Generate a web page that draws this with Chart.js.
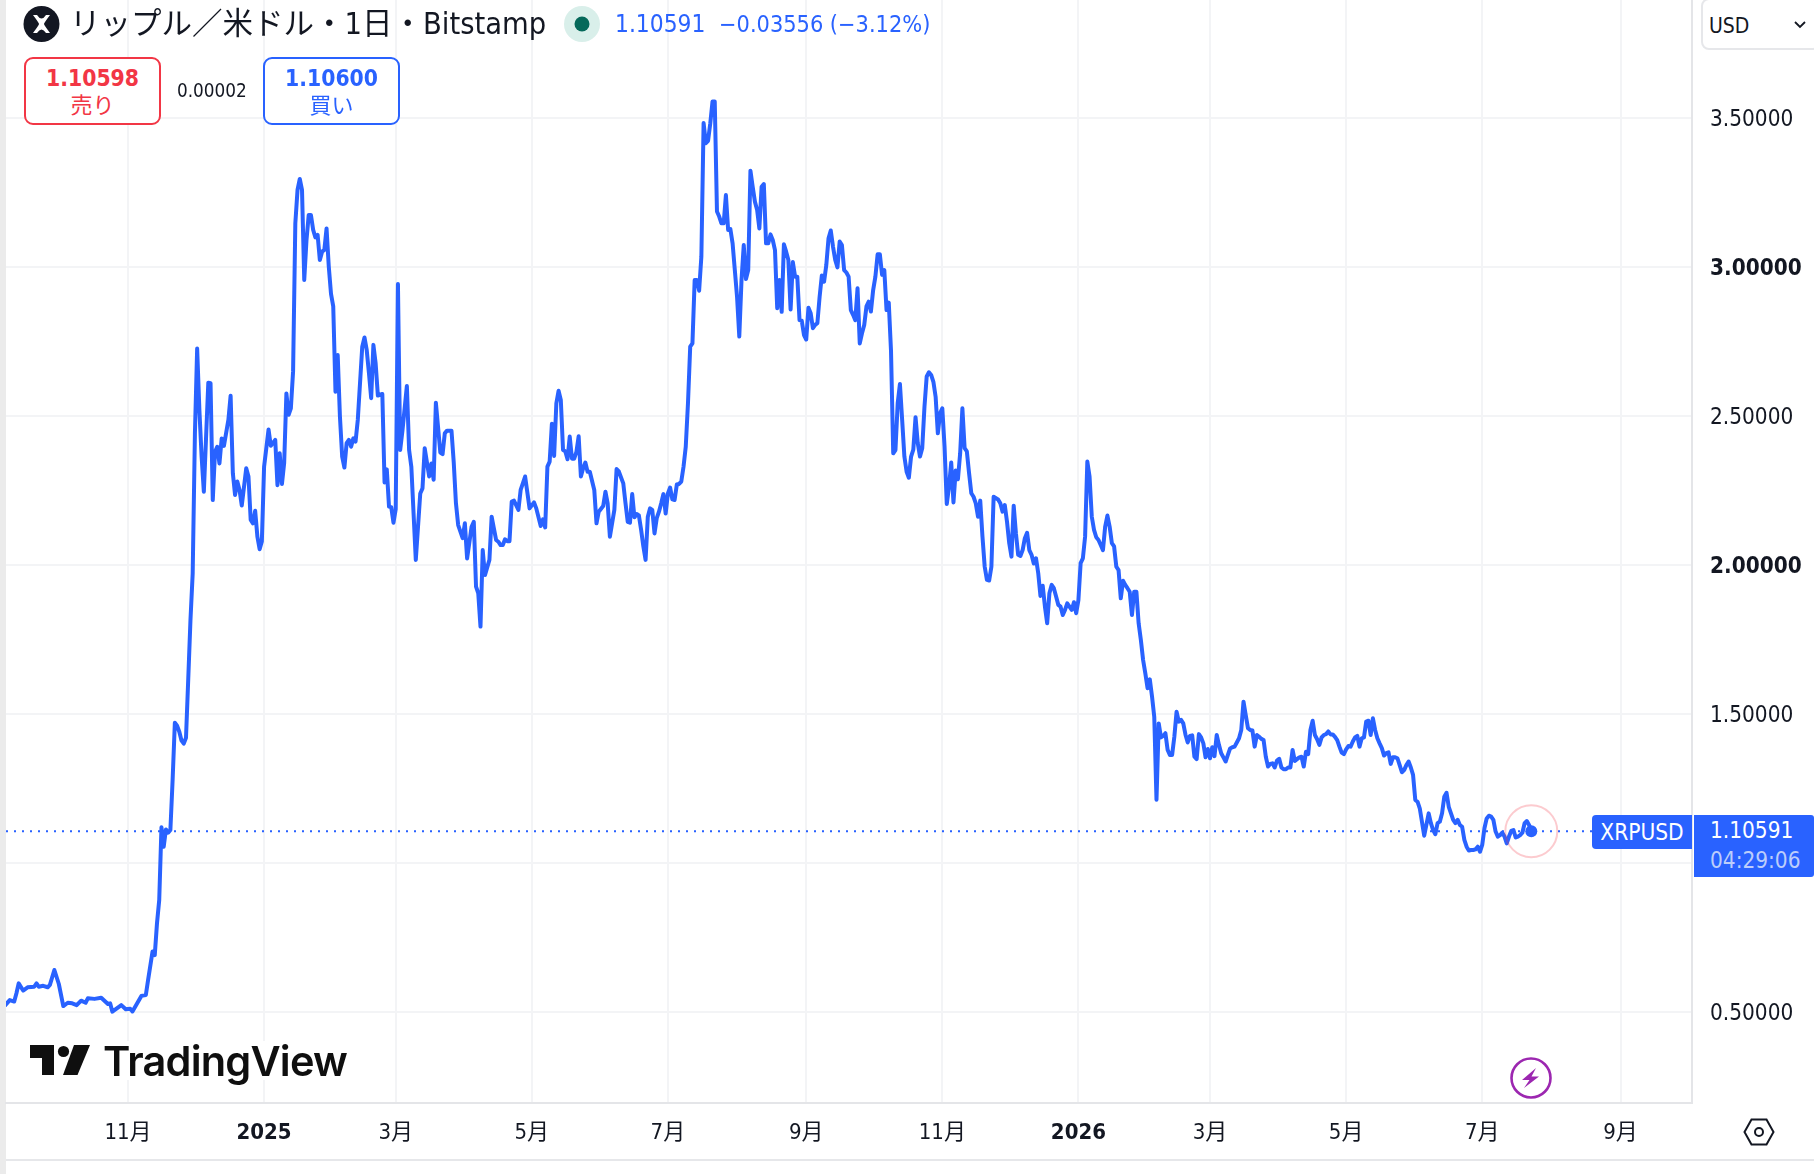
<!DOCTYPE html>
<html lang="ja">
<head>
<meta charset="utf-8">
<title>XRPUSD</title>
<script src="https://cdn.jsdelivr.net/npm/chart.js@4"></script>
<style>
  html, body { margin: 0; padding: 0; background: #fff; }
  body { width: 1814px; height: 1174px; position: relative; overflow: hidden;
         font-family: "DejaVu Sans Condensed", "DejaVu Sans", "Noto Sans CJK JP", sans-serif; color: #131722; }
  canvas { position: absolute; left: 0; top: 0; }
  .abs { position: absolute; white-space: nowrap; }
  #leftEdge { left: 0; top: 0; width: 6px; height: 1174px; background: #ebebeb; }
  #footLine { left: 6px; top: 1159px; width: 1808px; height: 2px; background: #e6e7ea; }
  #title { left: 70px; top: 3px; font-size: 30.5px; line-height: 42px; color: #131722; }
  .quote { top: 5px; line-height: 38px; color: #2962ff; }
  #quoteLast { left: 615px; font-size: 24.3px; }
  #quoteChange { left: 719px; font-size: 23.3px; }
  .trade { top: 57px; width: 137px; height: 68px; box-sizing: border-box; border: 2px solid; border-radius: 9px;
           background: #fff; text-align: center; }
  .trade b { display: block; font-size: 22.7px; line-height: 26px; margin-top: 6px; }
  .trade span { display: block; font-size: 22px; line-height: 26px; margin-top: -1px; font-family: "Noto Sans CJK JP", sans-serif; }
  #sell { left: 24px; border-color: #f23645; color: #f23645; }
  #buy { left: 263px; border-color: #2962ff; color: #2962ff; }
  #spread { left: 177px; top: 78px; font-size: 18.8px; line-height: 26px; }
  #usd { left: 1701px; top: -2px; width: 120px; height: 52px; box-sizing: border-box; border: 2px solid #e6e7ea;
         border-radius: 8px; background: #fff; font-size: 21px; line-height: 52px; padding-left: 6px; }
  #symbolTag { left: 1592px; top: 815px; width: 100px; height: 34px; background: #2962ff; color: #fff;
               border-radius: 4px 0 0 4px; font-size: 22.5px; line-height: 34px; text-align: center; }
  #priceTag { left: 1694px; top: 815px; width: 120px; height: 62px; background: #2962ff; color: #fff;
              border-radius: 0 3px 3px 0; font-size: 22.4px; line-height: 30px; padding-left: 16px; box-sizing: border-box; }
  #priceTag i { font-style: normal; color: #bccdfb; display: block; }
  #brand { left: 26px; top: 1041px; width: 326px; height: 39px; background: #fff; }
  #brandText { left: 103px; top: 1033px; font-family: Inter, sans-serif; font-weight: 600; font-size: 41.5px;
               letter-spacing: -0.8px; line-height: 56px; color: #0f0f0f; }
  svg.abs { overflow: visible; }
</style>
</head>
<body>
<div class="abs" id="leftEdge"></div>
<canvas id="chart" width="1814" height="1174"></canvas>
<div class="abs" id="footLine"></div>

<svg class="abs" style="left:0;top:0" width="100" height="50">
  <circle cx="41.5" cy="24" r="18" fill="#131722"/>
  <path d="M33 15 L37 15 Q41.5 22 46 15 L50 15 Q44 23 44 24 Q44 25 50 33 L46 33 Q41.5 26 37 33 L33 33 Q39 25 39 24 Q39 23 33 15 Z" fill="#fff"/>
</svg>
<div class="abs" id="title">リップル／米ドル・1日・Bitstamp</div>
<svg class="abs" style="left:560px;top:4px" width="44" height="40">
  <ellipse cx="22" cy="20" rx="18" ry="18" fill="#d9efea"/>
  <circle cx="22" cy="20" r="7.5" fill="#05695a"/>
</svg>
<div class="abs quote" id="quoteLast">1.10591</div>
<div class="abs quote" id="quoteChange">−0.03556 (−3.12%)</div>

<div class="abs trade" id="sell"><b>1.10598</b><span>売り</span></div>
<div class="abs" id="spread">0.00002</div>
<div class="abs trade" id="buy"><b>1.10600</b><span>買い</span></div>

<div class="abs" id="usd">USD</div>
<svg class="abs" style="left:1794px;top:20px" width="14" height="10">
  <path d="M1 2 L6 7 L11 2" fill="none" stroke="#131722" stroke-width="1.8"/>
</svg>

<div class="abs" id="symbolTag">XRPUSD</div>
<div class="abs" id="priceTag">1.10591<i>04:29:06</i></div>

<div class="abs" id="brand"></div>
<svg class="abs" style="left:30px;top:1045px" width="62" height="32">
  <path d="M0 0 H24 V30 H12 V13 H0 Z" fill="#0f0f0f"/>
  <circle cx="33.5" cy="6.5" r="5.6" fill="#0f0f0f"/>
  <path d="M44 0 H60 L47.5 30 H33 Z" fill="#0f0f0f"/>
</svg>
<div class="abs" id="brandText">TradingView</div>

<svg class="abs" style="left:1509px;top:1056px" width="44" height="44">
  <circle cx="22" cy="22" r="19.5" fill="#fff" stroke="#9c27b0" stroke-width="2.6"/>
  <path d="M27 12 L13 24 H20.5 L15 32 L30 20.5 H22.5 Z" fill="#9c27b0"/>
</svg>
<svg class="abs" style="left:1742px;top:1116px" width="34" height="32">
  <path d="M2.5 16 L9.5 3.5 H24.5 L31.5 16 L24.5 28.5 H9.5 Z" fill="none" stroke="#131722" stroke-width="2"/>
  <circle cx="17" cy="16" r="4" fill="none" stroke="#131722" stroke-width="2"/>
</svg>

<script>
// Daily XRP/USD closes; day 0 is 2024-11-01, only the turning points of the line are listed.
const sessionDays = [
  -55,-53,-51,-50,-49,-47,-45,-42,-41,-40,-38,-36,-35,-33,-31,-29,-27,-25,-23,-21,-19,-18,-15,-12,-9,-8,-7,-5,-3,-1,1,2,6,8,9,11,12,13,14,15,16,17,18,19,20,
  21,22,23,24,25,26,27,28,29,30,31,32,33,34,36,37,38,39,40,41,42,43,45,46,47,48,49,50,51,53,54,55,56,57,58,59,60,
  61,63,64,66,67,68,69,70,71,72,73,74,75,76,77,78,79,80,81,82,83,84,85,86,87,88,89,90,91,92,93,94,95,96,97,98,99,100,
  101,102,103,105,106,107,108,109,110,111,112,114,115,116,117,118,119,120,121,122,123,125,126,127,129,131,132,133,135,136,137,138,140,141,142,143,145,146,147,148,150,151,152,154,155,156,157,158,159,160,162,163,164,165,
  166,167,168,169,170,171,172,173,175,176,178,180,182,183,185,186,187,188,189,190,191,192,193,194,195,196,197,198,199,200,201,202,203,204,205,206,207,209,210,211,213,214,215,216,217,218,219,220,222,223,224,225,226,227,228,229,230,231,232,233,234,235,236,237,238,239,240,241,242,243,244,245,246,247,248,249,250,251,252,253,
  254,255,256,257,258,259,260,261,262,263,264,265,266,267,268,269,270,271,272,273,274,275,276,277,278,279,280,281,282,283,284,285,286,287,288,289,290,291,292,293,294,295,296,297,298,299,300,
  301,302,303,304,305,306,307,308,309,310,311,312,313,314,315,316,317,318,319,320,321,322,323,324,325,326,327,328,329,330,331,332,333,334,335,336,337,338,339,340,341,342,343,
  344,345,346,347,348,349,350,351,352,353,354,355,356,357,358,359,360,361,362,363,364,365,366,367,368,369,370,371,372,373,374,375,376,377,378,379,380,381,382,383,384,385,386,387,388,390,391,392,393,394,395,396,397,398,399,400,
  401,402,403,404,405,406,407,408,409,410,411,412,413,414,415,416,417,418,419,420,421,423,424,425,426,427,428,429,430,431,432,433,434,435,436,437,438,439,440,441,442,443,444,445,446,447,448,449,450,451,452,453,454,455,456,457,458,459,460,461,462,
  463,464,465,466,467,468,469,470,471,472,473,474,475,476,477,478,479,480,481,482,483,484,485,486,487,488,489,490,491,492,493,494,495,496,497,498,499,500,
  501,502,503,504,505,506,507,508,509,510,511,512,513,514,515,516,517,518,519,520,521,522,523,524,525,526,527,528,529,530,531,532,533,534,535,536,537,538,539,540,
  541,542,543,544,545,546,547,548,549,550,551,552,553,554,555,556,557,558,559,560,561,562,563,564,565,566,567,568,569,570,571,572,573,574,575,576,577,578,579,581,583,584,585,586,587,588,589,590,
  591,592,593,594,595,596,597,598,599,600,601,602,603,604,605,606,607,608,609,610,611,612,613,614,615,616,617,618,619,620,621,622,623,624,625,626,627,628,629
];
const closes = [
  .522,.539,.534,.562,.595,.571,.582,.584,.595,.584,.587,.582,.590,.640,.593,.519,.530,.528,.522,.537,.530,.545,.543,.547,.526,.528,.500,.511,.522,.508,.510,.501,.553,.556,.606,.702,.690,.797,.875,1.119,1.054,1.112,1.101,1.11,1.278,
  1.47,1.46,1.44,1.41,1.40,1.42,1.616,1.815,1.972,2.442,2.727,2.52,2.364,2.246,2.612,2.61,2.218,2.38,2.397,2.341,2.425,2.40,2.487,2.568,2.308,2.235,2.28,2.252,2.2,2.325,2.297,2.151,2.14,2.182,2.095,2.053,2.079,
  2.33,2.455,2.40,2.42,2.268,2.375,2.272,2.342,2.576,2.504,2.526,2.65,3.147,3.26,3.296,3.259,2.957,3.09,3.175,3.175,3.125,3.10,3.108,3.024,3.052,3.058,3.13,3.002,2.91,2.868,2.582,2.705,2.498,2.364,2.327,2.409,2.42,2.397,
  2.425,2.414,2.487,2.733,2.764,2.722,2.644,2.56,2.739,2.677,2.569,2.574,2.277,2.321,2.196,2.194,2.142,2.187,2.943,2.386,2.45,2.601,2.386,2.33,2.017,2.24,2.257,2.392,2.297,2.341,2.286,2.545,2.377,2.372,2.442,2.451,2.451,2.345,2.207,2.134,2.09,2.14,2.022,2.128,2.145,1.927,1.905,1.793,2.05,1.966,2.017,2.162,2.123,2.084,
  2.078,2.067,2.067,2.086,2.08,2.08,2.213,2.216,2.185,2.252,2.297,2.19,2.21,2.19,2.131,2.153,2.126,2.33,2.347,2.474,2.366,2.543,2.585,2.554,2.386,2.382,2.355,2.431,2.357,2.357,2.38,2.432,2.297,2.325,2.344,2.313,2.313,2.252,2.14,2.179,2.198,2.246,2.207,2.095,2.14,2.185,2.322,2.314,2.274,2.207,2.145,2.142,2.238,2.16,2.171,2.166,2.118,2.062,2.017,2.162,2.19,2.185,2.106,2.157,2.179,2.207,2.238,2.173,2.24,2.26,2.22,2.218,2.27,2.272,2.28,2.33,2.397,2.543,2.733,2.744,
  2.957,2.957,2.921,3.035,3.484,3.416,3.424,3.483,3.556,3.556,3.187,3.17,3.147,3.147,3.242,3.125,3.128,3.08,2.99,2.90,2.767,2.957,3.074,2.96,2.99,3.324,3.27,3.22,3.192,3.13,3.27,3.279,3.08,3.08,3.11,3.091,3.057,2.862,2.957,2.85,3.077,3.052,3.024,2.858,3.017,2.968,2.968,
  2.822,2.82,2.772,2.757,2.864,2.845,2.795,2.806,2.812,2.9,2.972,2.951,3.007,3.097,3.123,3.069,3.024,2.999,3.086,3.074,2.99,2.982,2.968,2.856,2.84,2.822,2.929,2.744,2.778,2.806,2.868,2.884,2.851,2.923,2.968,3.043,3.043,2.974,2.99,2.856,2.881,2.72,2.375,
  2.386,2.543,2.608,2.487,2.364,2.313,2.293,2.364,2.387,2.496,2.409,2.364,2.392,2.531,2.633,2.647,2.638,2.615,2.565,2.442,2.509,2.526,2.398,2.205,2.263,2.344,2.21,2.317,2.288,2.375,2.526,2.392,2.381,2.308,2.241,2.229,2.207,2.162,2.216,2.095,1.994,1.95,1.948,1.994,2.229,2.22,2.207,2.179,2.201,2.145,2.073,2.028,2.199,2.106,2.034,2.03,
  2.05,2.09,2.108,2.05,2.034,2.005,2.022,1.972,1.896,1.93,1.86,1.804,1.905,1.933,1.922,1.894,1.866,1.86,1.832,1.849,1.871,1.849,1.875,1.838,1.882,2.006,2.022,2.095,2.347,2.297,2.162,2.118,2.093,2.084,2.067,2.05,2.129,2.166,2.129,2.073,2.062,1.994,1.983,1.888,1.947,1.933,1.922,1.91,1.832,1.91,1.91,1.804,1.748,1.681,1.636,1.586,1.616,1.558,1.49,1.212,1.468,
  1.421,1.426,1.435,1.379,1.362,1.362,1.423,1.507,1.474,1.48,1.468,1.43,1.404,1.426,1.428,1.356,1.348,1.432,1.421,1.401,1.354,1.382,1.351,1.388,1.358,1.429,1.396,1.368,1.354,1.34,1.362,1.384,1.388,1.39,1.404,1.418,1.446,1.541,
  1.496,1.452,1.446,1.444,1.39,1.429,1.423,1.416,1.412,1.356,1.323,1.332,1.334,1.32,1.343,1.349,1.32,1.314,1.314,1.32,1.32,1.379,1.342,1.348,1.354,1.356,1.323,1.373,1.365,1.446,1.477,1.429,1.415,1.396,1.421,1.429,1.432,1.441,1.431,1.431,
  1.423,1.412,1.39,1.37,1.365,1.381,1.392,1.39,1.407,1.421,1.426,1.39,1.418,1.421,1.474,1.477,1.429,1.485,1.446,1.418,1.401,1.385,1.36,1.368,1.371,1.332,1.354,1.354,1.351,1.328,1.304,1.311,1.328,1.34,1.32,1.295,1.211,1.205,1.183,1.091,1.166,1.133,1.11,1.096,1.133,1.138,1.166,1.222,
  1.235,1.188,1.166,1.144,1.133,1.144,1.127,1.121,1.077,1.054,1.041,1.043,1.043,1.045,1.054,1.037,1.06,1.116,1.149,1.158,1.155,1.144,1.105,1.088,1.093,1.101,1.088,1.065,1.088,1.107,1.11,1.085,1.088,1.093,1.101,1.133,1.14,1.127,1.10591
];

const lastClose = 1.10591;
const priceTicks = [0.5, 1, 1.5, 2, 2.5, 3, 3.5];
const strongPrices = [2, 3];
const monthDays = [0, 61, 120, 181, 242, 304, 365, 426, 485, 546, 607, 669];
const monthLabels = ['11月', '2025', '3月', '5月', '7月', '9月', '11月', '2026', '3月', '5月', '7月', '9月'];
const yearLabels = ['2025', '2026'];

const dayMin = -54.68, dayMax = 701.03;
const priceMin = 0.1934, priceMax = 3.897;

const blue = '#2962ff';
const gridColor = '#f3f4f6';
const edgeColor = '#e4e5e8';
const axisFamily = '"DejaVu Sans Condensed","DejaVu Sans","Noto Sans CJK JP",sans-serif';

// Fixes each axis band so the plot area stays the same whatever the labels measure.
function fixBand(prop, size) {
  return scale => {
    scale[prop] = size;
    scale.paddingTop = scale.paddingBottom = scale.paddingLeft = scale.paddingRight = 0;
  };
}

const lastIndex = closes.length - 1;

new Chart(document.getElementById('chart'), {
  type: 'line',
  data: {
    datasets: [
      {
        label: 'XRPUSD',
        data: sessionDays.map((d, i) => ({ x: d, y: closes[i] })),
        borderColor: blue,
        backgroundColor: blue,
        borderWidth: 4,
        borderJoinStyle: 'round',
        borderCapStyle: 'round',
        tension: 0,
        pointRadius: c => (c.dataIndex === lastIndex ? 6 : 0),
        pointBorderWidth: 0,
        order: 2
      },
      {
        label: 'last price',
        data: [{ x: dayMin, y: lastClose }, { x: dayMax, y: lastClose }],
        borderColor: blue,
        borderWidth: 2,
        borderDash: [2, 6],
        pointRadius: 0,
        order: 3
      },
      {
        label: 'live pulse',
        data: [{ x: sessionDays[lastIndex], y: lastClose }],
        showLine: false,
        pointRadius: 26,
        pointBorderWidth: 2,
        pointBorderColor: 'rgba(242,54,69,0.26)',
        pointBackgroundColor: 'rgba(0,0,0,0)',
        clip: false,
        order: 1
      }
    ]
  },
  options: {
    responsive: false,
    animation: false,
    events: [],
    layout: { autoPadding: false, padding: { left: 6, top: 0, right: 0, bottom: 14 } },
    plugins: { legend: { display: false }, tooltip: { enabled: false } },
    scales: {
      x: {
        type: 'linear',
        min: dayMin,
        max: dayMax,
        afterBuildTicks: s => { s.ticks = monthDays.map(value => ({ value })); },
        afterFit: fixBand('height', 57),
        grid: { color: gridColor, lineWidth: 2, drawTicks: false },
        border: { display: true, color: edgeColor, width: 2 },
        ticks: {
          autoSkip: false,
          maxRotation: 0,
          padding: 17,
          color: '#131722',
          font: c => ({
            family: axisFamily,
            size: 22,
            weight: c.tick && yearLabels.includes(monthLabels[monthDays.indexOf(c.tick.value)]) ? 'bold' : 'normal'
          }),
          callback: v => monthLabels[monthDays.indexOf(v)]
        }
      },
      y: {
        type: 'linear',
        position: 'right',
        min: priceMin,
        max: priceMax,
        afterBuildTicks: s => { s.ticks = priceTicks.map(value => ({ value })); },
        afterFit: fixBand('width', 122),
        grid: { color: gridColor, lineWidth: 2, drawTicks: false },
        border: { display: true, color: edgeColor, width: 2 },
        ticks: {
          padding: 18,
          labelOffset: 2,
          color: '#131722',
          font: c => ({
            family: axisFamily,
            size: 22.4,
            weight: c.tick && strongPrices.includes(c.tick.value) ? 'bold' : 'normal'
          }),
          callback: v => v.toFixed(5)
        }
      }
    }
  }
});
</script>
</body>
</html>
